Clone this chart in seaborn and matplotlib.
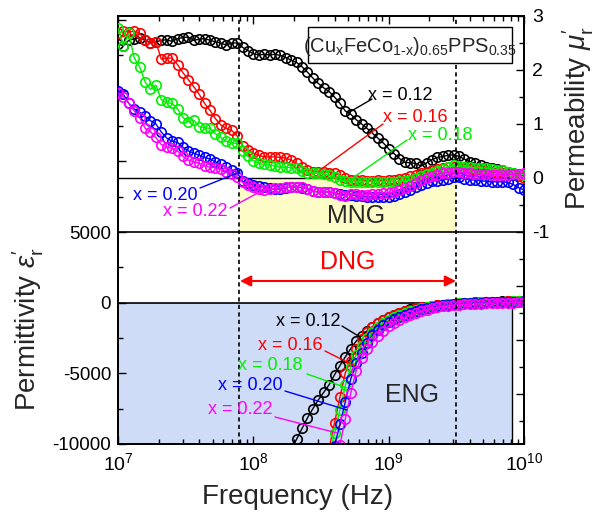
import numpy as np
import pandas as pd
import matplotlib
matplotlib.use("Agg")
import matplotlib.pyplot as plt
import seaborn as sns
from matplotlib.patches import Rectangle
from matplotlib.lines import Line2D
from matplotlib.ticker import FixedLocator, MultipleLocator, FuncFormatter, LogLocator, NullFormatter

# ---------------- data ----------------
log_freq = np.linspace(7.0, 10.0, 76)          # measurement grid (log10 Hz)
freq = 10 ** log_freq

labels = ["x = 0.12", "x = 0.16", "x = 0.18", "x = 0.20", "x = 0.22"]
colors = ["#000000", "#ff0000", "#00f000", "#0000ff", "#ff00ff"]

mu_012 = [2.48, 2.45, 2.55, 2.58, 2.60, 2.55, 2.50, 2.52, 2.55, 2.56,
          2.53, 2.58, 2.60, 2.61, 2.55, 2.57, 2.58, 2.55, 2.52, 2.50,
          2.46, 2.50, 2.50, 2.42, 2.36, 2.30, 2.28, 2.29, 2.28, 2.29,
          2.27, 2.23, 2.18, 2.14, 2.06, 1.96, 1.85, 1.75, 1.67, 1.60,
          1.50, 1.38, 1.24, 1.18, 1.08, 1.00, 0.92, 0.83, 0.74, 0.65,
          0.54, 0.45, 0.36, 0.29, 0.28, 0.27, 0.22, 0.28, 0.34, 0.38,
          0.40, 0.42, 0.43, 0.40, 0.35, 0.30, 0.27, 0.24, 0.20, 0.18,
          0.16, 0.14, 0.12, 0.09, 0.07, 0.05]
mu_016 = [2.68, 2.72, 2.70, 2.72, 2.68, 2.55, 2.50, 2.52, 2.20, 2.22,
          2.22, 2.10, 1.95, 1.82, 1.69, 1.55, 1.38, 1.25, 1.10, 0.98,
          0.92, 0.88, 0.78, 0.60, 0.52, 0.46, 0.42, 0.39, 0.39, 0.39,
          0.38, 0.37, 0.33, 0.27, 0.20, 0.15, 0.12, 0.11, 0.11, 0.10,
          0.09, 0.05, 0.00, -0.03, -0.04, -0.04, -0.05, -0.05, -0.04, -0.05,
          -0.04, -0.03, -0.02, 0.00, 0.03, 0.06, 0.09, 0.12, 0.14, 0.16,
          0.18, 0.20, 0.20, 0.19, 0.18, 0.16, 0.15, 0.14, 0.13, 0.12,
          0.10, 0.09, 0.08, 0.06, 0.03, 0.00]
mu_018 = [2.78, 2.45, 2.68, 2.22, 2.06, 1.78, 1.64, 1.72, 1.45, 1.40,
          1.38, 1.28, 1.12, 1.04, 1.07, 0.95, 0.93, 0.92, 0.82, 0.75,
          0.68, 0.65, 0.64, 0.50, 0.40, 0.32, 0.27, 0.25, 0.24, 0.22,
          0.20, 0.20, 0.19, 0.18, 0.13, 0.10, 0.09, 0.09, 0.08, 0.05,
          0.01, -0.03, -0.06, -0.07, -0.07, -0.07, -0.07, -0.07, -0.07, -0.07,
          -0.07, -0.07, -0.06, -0.05, -0.04, 0.00, 0.04, 0.07, 0.10, 0.13,
          0.17, 0.21, 0.24, 0.22, 0.21, 0.20, 0.19, 0.19, 0.18, 0.17,
          0.15, 0.14, 0.12, 0.10, 0.08, 0.06]
mu_020 = [1.62, 1.55, 1.38, 1.28, 1.22, 1.14, 1.06, 1.00, 0.85, 0.74,
          0.68, 0.66, 0.57, 0.50, 0.46, 0.42, 0.38, 0.35, 0.30, 0.25,
          0.20, 0.15, 0.10, -0.06, -0.10, -0.13, -0.15, -0.17, -0.19, -0.21,
          -0.20, -0.18, -0.17, -0.17, -0.18, -0.20, -0.24, -0.26, -0.26, -0.26,
          -0.28, -0.30, -0.31, -0.31, -0.33, -0.34, -0.35, -0.35, -0.35, -0.35,
          -0.35, -0.34, -0.30, -0.26, -0.22, -0.17, -0.13, -0.09, -0.06, -0.05,
          -0.04, -0.01, 0.01, 0.01, -0.01, -0.03, -0.04, -0.05, -0.06, -0.07,
          -0.07, -0.07, -0.08, -0.12, -0.18, -0.22]
mu_022 = [1.58, 1.50, 1.38, 1.24, 1.12, 0.92, 0.86, 0.75, 0.62, 0.57,
          0.55, 0.50, 0.40, 0.33, 0.30, 0.27, 0.22, 0.20, 0.19, 0.16,
          0.12, 0.08, 0.02, -0.08, -0.13, -0.17, -0.20, -0.22, -0.21, -0.19,
          -0.18, -0.17, -0.17, -0.17, -0.17, -0.20, -0.24, -0.26, -0.26, -0.26,
          -0.28, -0.32, -0.33, -0.29, -0.30, -0.31, -0.31, -0.30, -0.29, -0.28,
          -0.28, -0.26, -0.23, -0.19, -0.15, -0.09, -0.04, 0.00, 0.03, 0.06,
          0.09, 0.10, 0.11, 0.11, 0.10, 0.09, 0.08, 0.07, 0.07, 0.06,
          0.06, 0.06, 0.06, 0.07, 0.08, 0.09]

# permittivity (NaN = below the plotted range, not shown)
eps_012 = [np.nan] * 31 + [
    -11200, -10400, -9650, -8900, -8150, -7500, -6880, -6350, -5800, -5100,
    -4450, -3830, -3250, -2720, -2330, -2000, -1700, -1450, -1230, -1030,
    -860, -710, -580, -470, -390, -330, -280, -220, -170, -130,
    -100, -70, -40, -20, 0, 20, 40, 55, 70, 80,
    90, 100, 110, 120, 130]
eps_016 = [np.nan] * 39 + [
    -10300, -8500, -6700, -4950, -4100, -3300, -2600, -2100, -1720, -1430,
    -1200, -1030, -880, -740, -610, -500, -410, -340, -280, -220,
    -170, -130, -100, -70, -45, -20, 0, 20, 35, 50,
    60, 70, 80, 90, 100, 110, 120]
eps_018 = [np.nan] * 39 + [
    -10800, -9250, -7600, -5850, -4550, -3700, -3050, -2500, -2050, -1700,
    -1420, -1200, -1030, -880, -740, -610, -500, -410, -330, -260,
    -200, -150, -110, -80, -55, -30, -10, 10, 25, 40,
    50, 60, 70, 80, 90, 100, 110]
eps_020 = [np.nan] * 40 + [
    -10150, -8600, -7000, -5400, -4300, -3550, -2850, -2300, -1900, -1580,
    -1340, -1150, -1000, -840, -700, -580, -480, -390, -310, -250,
    -190, -150, -110, -80, -55, -30, -10, 5, 20, 30,
    40, 50, 60, 70, 80, 90]
eps_022 = [np.nan] * 40 + [
    -11500, -10050, -8200, -6400, -4800, -3900, -3300, -2800, -2350, -1980,
    -1680, -1430, -1210, -1040, -880, -740, -610, -500, -410, -330,
    -270, -220, -180, -150, -120, -100, -80, -60, -45, -30,
    -20, -10, 0, 10, 15, 20]

mu_series = [mu_012, mu_016, mu_018, mu_020, mu_022]
eps_series = [eps_012, eps_016, eps_018, eps_020, eps_022]

dng_low, dng_high = 7.9e7, 3.15e9     # DNG frequency window
eng_high = 8.2e9                      # end of ENG shading

# ---------------- style ----------------
sns.set_theme(style="ticks")
plt.rcParams["font.family"] = ["Liberation Sans", "DejaVu Sans"]
plt.rcParams["mathtext.fontset"] = "custom"
plt.rcParams["mathtext.rm"] = "Liberation Sans"
plt.rcParams["mathtext.it"] = "Liberation Sans:italic"
plt.rcParams["mathtext.bf"] = "Liberation Sans:bold"

fig = plt.figure(figsize=(6.0, 5.18), dpi=100)
L, R, T, B = 118, 524, 16, 444
W, H = 600, 518
ax = fig.add_axes([L / W, 1 - B / H, (R - L) / W, (B - T) / H])
ax.set_xscale("log")
ax2 = ax.twinx()

def pa(px, py):
    """reference-pixel position -> axes fraction"""
    return ((px - L) / (R - L), (B - py) / (B - T))

# shaded regions
ax.add_patch(Rectangle((1e7, -10000), eng_high - 1e7, 10000, facecolor="#cfdcf8",
                       edgecolor="none", zorder=0))
ax.axvline(eng_high, ymin=0, ymax=pa(0, 303)[1], color="black", lw=1.0, zorder=1)
ax2.add_patch(Rectangle((dng_low, -1), dng_high - dng_low, 1, facecolor="#fdfcc6",
                        edgecolor="none", zorder=0))

# curves
mkw = dict(marker="o", markersize=6.8, markerfacecolor="none",
           markeredgewidth=1.2, linewidth=1.0, estimator=None, sort=False, zorder=3)
for vals, c in zip(eps_series, colors):
    sns.lineplot(x=freq, y=np.array(vals, dtype=float), ax=ax, color=c,
                 markeredgecolor=c, **mkw)
for vals, c in zip(mu_series, colors):
    sns.lineplot(x=freq, y=np.array(vals, dtype=float), ax=ax2, color=c,
                 markeredgecolor=c, **mkw)

ax.set_xlim(1e7, 1e10)
ax.set_ylim(-10000, 20285)
ax2.set_ylim(-4.926, 3.0)

# reference lines
ax.axhline(0, color="black", lw=1.2, zorder=2)
ax2.axhline(0, color="black", lw=1.0, zorder=2)
ax2.axhline(-1, color="black", lw=1.2, zorder=2)
for xv in (dng_low, dng_high):
    ax2.axvline(xv, color="black", lw=1.2, ls=(0, (2.5, 2)), zorder=5)

# ticks
ax.xaxis.set_major_locator(LogLocator(base=10, numticks=10))
ax.xaxis.set_minor_locator(LogLocator(base=10, subs=np.arange(2, 10), numticks=20))
ax.xaxis.set_minor_formatter(NullFormatter())
ax.yaxis.set_major_locator(FixedLocator([-10000, -5000, 0, 5000, 10000, 15000, 20000]))
ax.yaxis.set_minor_locator(MultipleLocator(2500))
ax.yaxis.set_major_formatter(FuncFormatter(lambda v, p: f"{int(v)}" if v <= 5000 else ""))
ax2.yaxis.set_major_locator(FixedLocator([-4, -3, -2, -1, 0, 1, 2, 3]))
ax2.yaxis.set_minor_locator(MultipleLocator(0.5))
ax2.yaxis.set_major_formatter(FuncFormatter(lambda v, p: f"{int(round(v))}" if v >= -1 else ""))

ax.tick_params(axis="x", which="both", direction="in", top=True, bottom=True,
               labelsize=14, pad=6, colors="black")
ax.tick_params(axis="y", which="both", direction="in", left=True, right=False,
               labelsize=13.5, pad=5, colors="black")
ax2.tick_params(axis="y", which="both", direction="in", left=False, right=True,
                labelsize=14, pad=6, colors="black")
for a in (ax, ax2):
    a.tick_params(which="major", length=6, width=1.0)
    a.tick_params(which="minor", length=3.5, width=1.0)
    for s in a.spines.values():
        s.set_linewidth(1.3)
        s.set_color("black")
ax.set_xlabel("")
ax.set_ylabel("")
ax2.set_ylabel("")

# axis titles
fig.text(298 / W, 1 - 497 / H, "Frequency (Hz)", ha="center", va="center", fontsize=20)
fig.text(28 / W, 1 - 329 / H, r"Permittivity $\varepsilon_\mathrm{r}^{\prime}$",
         ha="center", va="center", rotation=90, fontsize=20)
fig.text(578 / W, 1 - 118 / H, r"Permeability $\mu_\mathrm{r}^{\prime}$",
         ha="center", va="center", rotation=90, fontsize=20)

# composition box
x0, y0 = pa(308, 63)
x1, y1 = pa(512, 27)
ax2.add_patch(Rectangle((x0, y0), x1 - x0, y1 - y0, transform=ax2.transAxes,
                        facecolor="white", edgecolor="black", lw=1.0, zorder=6))
ax2.text(*pa(410, 46), r"$\mathrm{(Cu_{x}FeCo_{1\text{-}x})_{0.65}PPS_{0.35}}$",
         transform=ax2.transAxes, ha="center", va="center", fontsize=14.5, zorder=7)

# region labels
ax2.text(*pa(356, 216), "MNG", transform=ax2.transAxes, ha="center", va="center",
         fontsize=18, zorder=6)
ax2.text(*pa(348, 262), "DNG", transform=ax2.transAxes, ha="center", va="center",
         fontsize=18, color="red", zorder=6)
ax2.text(*pa(412, 395), "ENG", transform=ax2.transAxes, ha="center", va="center",
         fontsize=18, zorder=6)
ax2.annotate("", xy=pa(456, 281), xytext=pa(240, 281), xycoords="axes fraction",
             textcoords="axes fraction",
             arrowprops=dict(arrowstyle="<|-|>", color="red", lw=1.5,
                             mutation_scale=16, shrinkA=0, shrinkB=0), zorder=6)

# series labels with leader lines: (text center, line start, line end)
top_lab = [((400, 95), (372, 99), (348, 113)),
           ((415, 117), (383, 124), (320, 170)),
           ((440, 135), (407, 140), (347, 182)),
           ((165, 195), (200, 188), (240, 172)),
           ((195, 212), (230, 208), (267, 188))]
bot_lab = [((308, 321), (342, 326), (360, 337)),
           ((290, 345), (325, 351), (355, 366)),
           ((270, 366), (307, 374), (347, 388)),
           ((250, 386), (285, 391), (347, 410)),
           ((240, 410), (275, 417), (337, 433))]
for group in (top_lab, bot_lab):
    for (tc, p0, p1), lab, c in zip(group, labels, colors):
        ax2.text(*pa(*tc), lab, transform=ax2.transAxes, ha="center", va="center",
                 fontsize=13, color=c, zorder=7)
        a0, b0 = pa(*p0)
        a1, b1 = pa(*p1)
        ax2.add_line(Line2D([a0, a1], [b0, b1], transform=ax2.transAxes, color=c,
                            lw=1.0, zorder=7))

fig.savefig("out.png", dpi=100)
